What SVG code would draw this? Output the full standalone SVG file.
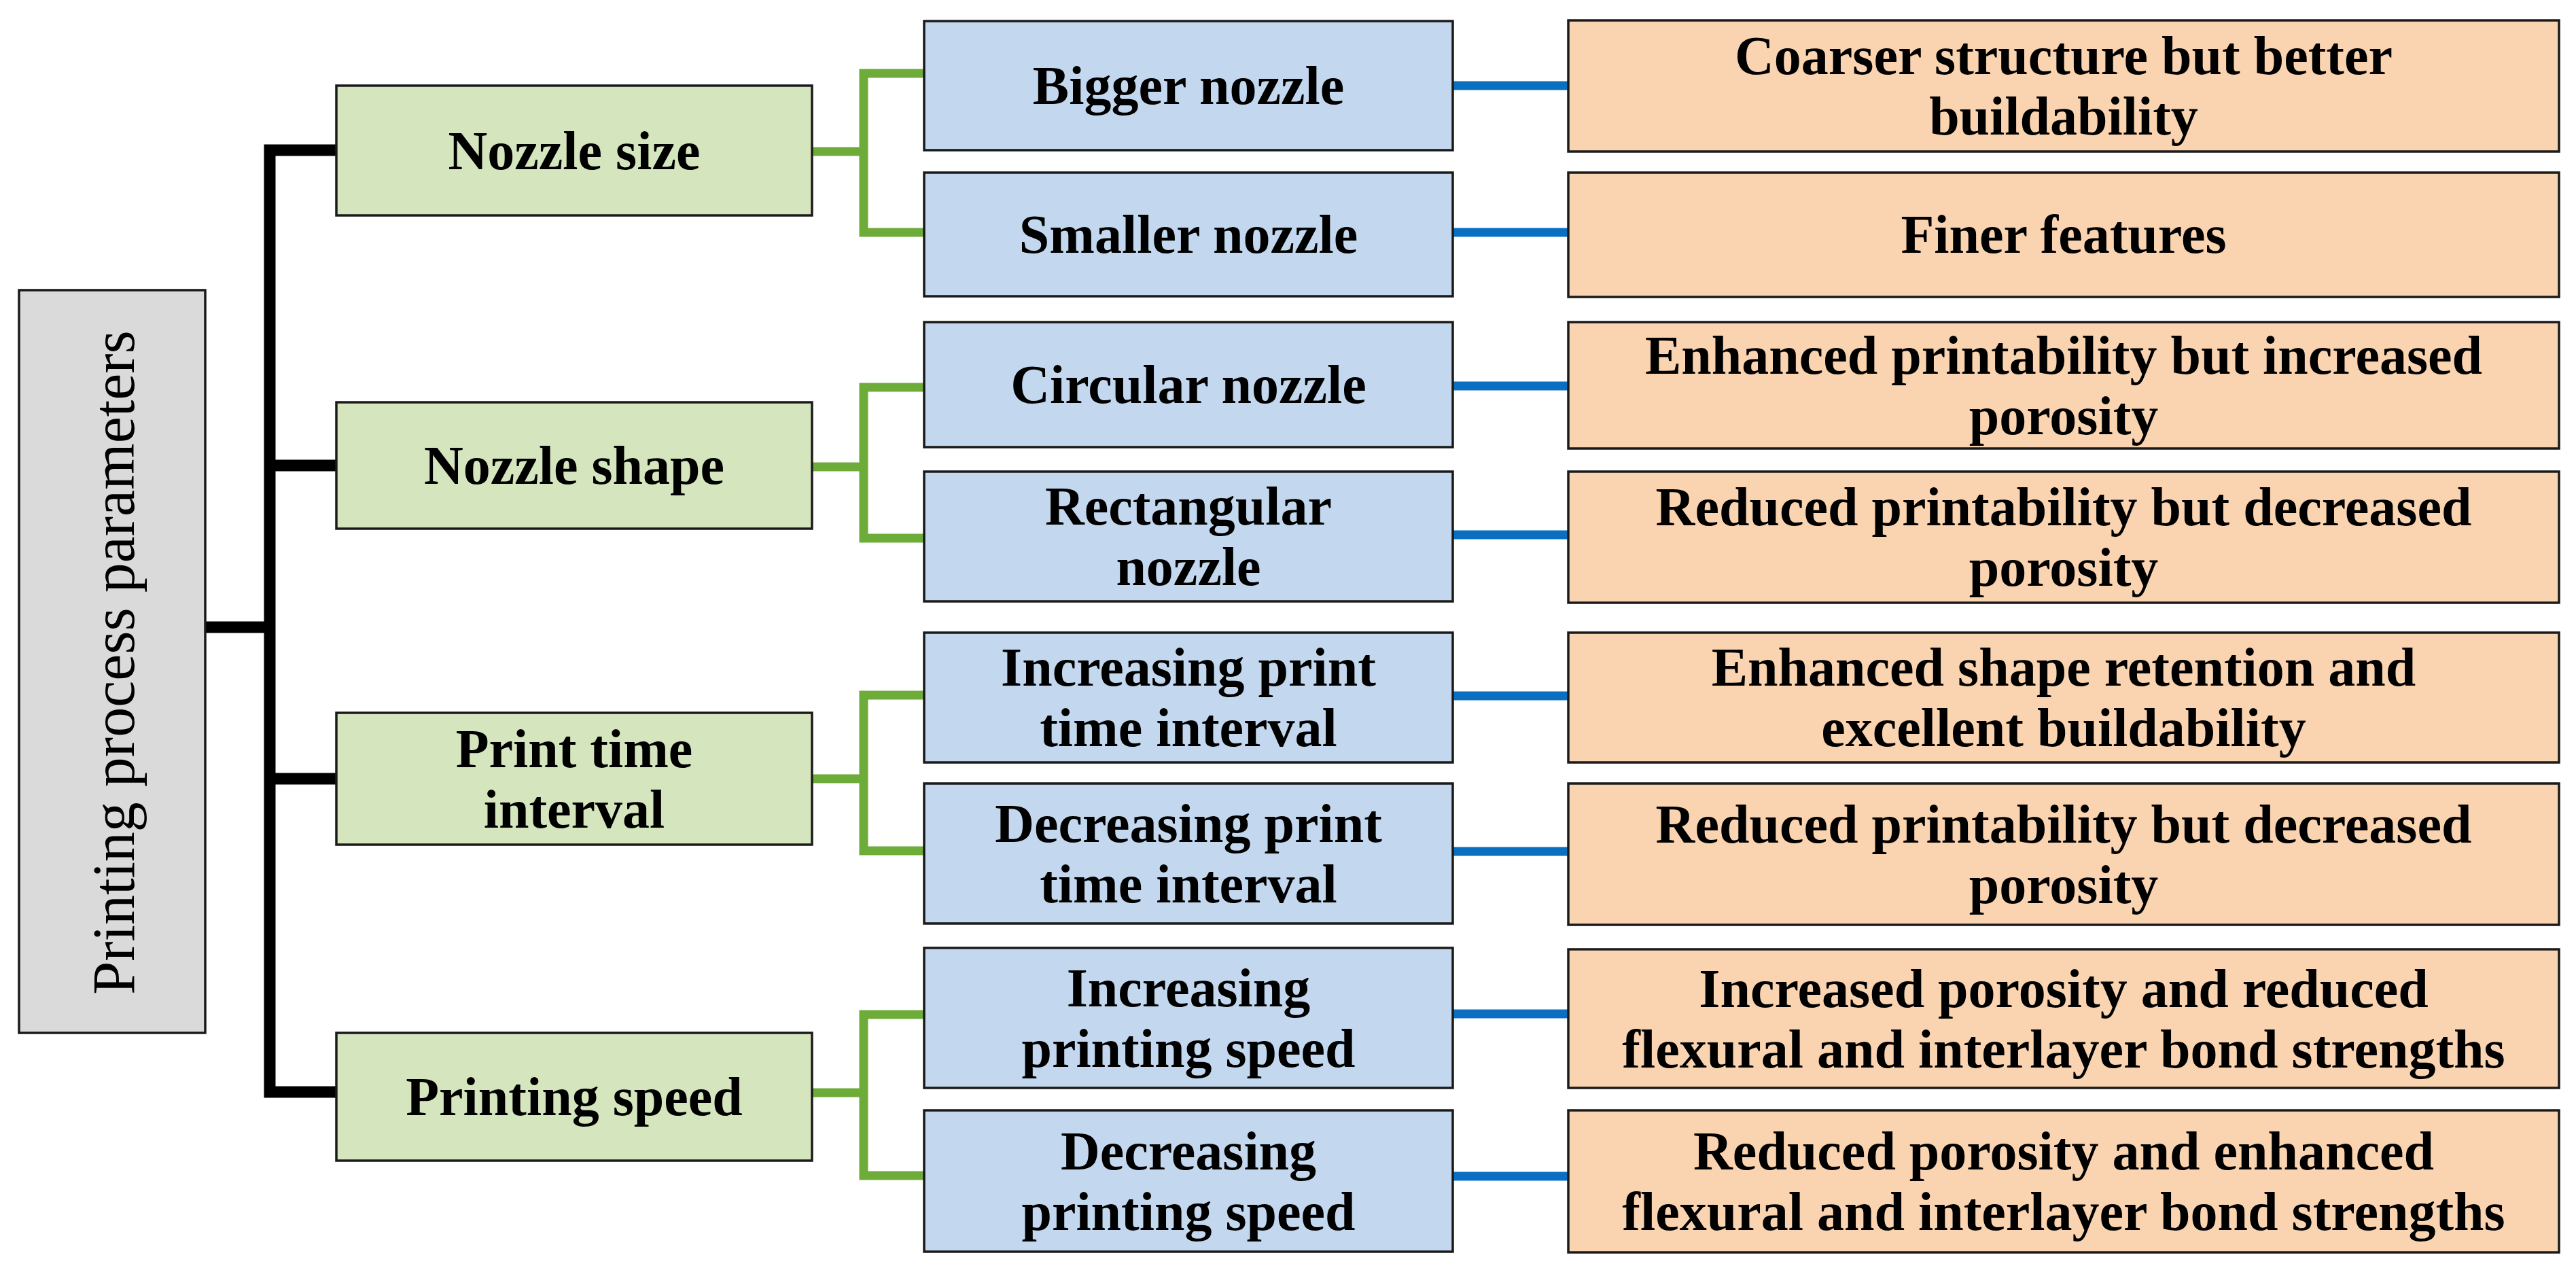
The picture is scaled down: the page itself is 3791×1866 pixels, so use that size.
<svg xmlns="http://www.w3.org/2000/svg" width="3791" height="1866" viewBox="0 0 3791 1866">
<style>
.box{stroke:#1a1a1a;stroke-width:3.5}
.root{fill:#dadada}
.g{fill:#d5e5bd}
.b{fill:#c3d8ee}
.o{fill:#fad4b0}
.t{font-family:"Liberation Serif","Times New Roman",serif;font-weight:bold;font-size:80px;fill:#000;text-anchor:middle}
.rt{font-family:"Liberation Serif","Times New Roman",serif;font-size:88px;fill:#000;text-anchor:middle}
.cb{fill:none;stroke:#000;stroke-width:17}
.cg{fill:none;stroke:#6eac3a;stroke-width:13}
.cl{fill:none;stroke:#0b6fc1;stroke-width:13}
</style>
<rect width="3791" height="1866" fill="#ffffff"/>
<g id="connectors">
<path class="cb" d="M302 923H397"/>
<path class="cb" d="M495 221H397V1607H495"/>
<path class="cb" d="M397 685H495"/>
<path class="cb" d="M397 1146H495"/>
<path class="cg" d="M1195 223H1271"/>
<path class="cg" d="M1360 108H1271V342H1360"/>
<path class="cg" d="M1195 687H1271"/>
<path class="cg" d="M1360 570H1271V792H1360"/>
<path class="cg" d="M1195 1146H1271"/>
<path class="cg" d="M1360 1023H1271V1252H1360"/>
<path class="cg" d="M1195 1608H1271"/>
<path class="cg" d="M1360 1493H1271V1730H1360"/>
<path class="cl" d="M2138 126H2308"/>
<path class="cl" d="M2138 342H2308"/>
<path class="cl" d="M2138 568H2308"/>
<path class="cl" d="M2138 787H2308"/>
<path class="cl" d="M2138 1024H2308"/>
<path class="cl" d="M2138 1253H2308"/>
<path class="cl" d="M2138 1492H2308"/>
<path class="cl" d="M2138 1731H2308"/>
</g>
<g id="root">
<rect class="box root" x="28" y="427" width="274" height="1093"/>
<text class="rt" transform="translate(197,975) rotate(-90)">Printing process parameters</text>
</g>
<g id="nozzle-size">
<rect class="box g" x="495" y="126" width="700" height="191"/>
<text class="t" x="845" y="249">Nozzle size</text>
</g>
<g id="nozzle-shape">
<rect class="box g" x="495" y="592" width="700" height="186"/>
<text class="t" x="845" y="712">Nozzle shape</text>
</g>
<g id="print-time-interval">
<rect class="box g" x="495" y="1049" width="700" height="194"/>
<text class="t" x="845" y="1129">Print time</text>
<text class="t" x="845" y="1218">interval</text>
</g>
<g id="printing-speed">
<rect class="box g" x="495" y="1520" width="700" height="188"/>
<text class="t" x="845" y="1641">Printing speed</text>
</g>
<g id="bigger-nozzle">
<rect class="box b" x="1360" y="31" width="778" height="190"/>
<text class="t" x="1749" y="153">Bigger nozzle</text>
</g>
<g id="smaller-nozzle">
<rect class="box b" x="1360" y="254" width="778" height="182"/>
<text class="t" x="1749" y="372">Smaller nozzle</text>
</g>
<g id="circular-nozzle">
<rect class="box b" x="1360" y="474" width="778" height="184"/>
<text class="t" x="1749" y="593">Circular nozzle</text>
</g>
<g id="rectangular-nozzle">
<rect class="box b" x="1360" y="694" width="778" height="191"/>
<text class="t" x="1749" y="772">Rectangular</text>
<text class="t" x="1749" y="861">nozzle</text>
</g>
<g id="increasing-print-time">
<rect class="box b" x="1360" y="931" width="778" height="191"/>
<text class="t" x="1749" y="1009">Increasing print</text>
<text class="t" x="1749" y="1098">time interval</text>
</g>
<g id="decreasing-print-time">
<rect class="box b" x="1360" y="1153" width="778" height="206"/>
<text class="t" x="1749" y="1239">Decreasing print</text>
<text class="t" x="1749" y="1328">time interval</text>
</g>
<g id="increasing-speed">
<rect class="box b" x="1360" y="1395" width="778" height="206"/>
<text class="t" x="1749" y="1481">Increasing</text>
<text class="t" x="1749" y="1570">printing speed</text>
</g>
<g id="decreasing-speed">
<rect class="box b" x="1360" y="1634" width="778" height="208"/>
<text class="t" x="1749" y="1721">Decreasing</text>
<text class="t" x="1749" y="1810">printing speed</text>
</g>
<g id="effect-1">
<rect class="box o" x="2308" y="30" width="1458" height="193"/>
<text class="t" x="3037" y="109">Coarser structure but better</text>
<text class="t" x="3037" y="198">buildability</text>
</g>
<g id="effect-2">
<rect class="box o" x="2308" y="254" width="1458" height="183"/>
<text class="t" x="3037" y="372">Finer features</text>
</g>
<g id="effect-3">
<rect class="box o" x="2308" y="474" width="1458" height="186"/>
<text class="t" x="3037" y="550">Enhanced printability but increased</text>
<text class="t" x="3037" y="639">porosity</text>
</g>
<g id="effect-4">
<rect class="box o" x="2308" y="694" width="1458" height="193"/>
<text class="t" x="3037" y="773">Reduced printability but decreased</text>
<text class="t" x="3037" y="862">porosity</text>
</g>
<g id="effect-5">
<rect class="box o" x="2308" y="931" width="1458" height="191"/>
<text class="t" x="3037" y="1009">Enhanced shape retention and</text>
<text class="t" x="3037" y="1098">excellent buildability</text>
</g>
<g id="effect-6">
<rect class="box o" x="2308" y="1153" width="1458" height="208"/>
<text class="t" x="3037" y="1240">Reduced printability but decreased</text>
<text class="t" x="3037" y="1329">porosity</text>
</g>
<g id="effect-7">
<rect class="box o" x="2308" y="1397" width="1458" height="204"/>
<text class="t" x="3037" y="1482">Increased porosity and reduced</text>
<text class="t" x="3037" y="1571">flexural and interlayer bond strengths</text>
</g>
<g id="effect-8">
<rect class="box o" x="2308" y="1634" width="1458" height="209"/>
<text class="t" x="3037" y="1721">Reduced porosity and enhanced</text>
<text class="t" x="3037" y="1810">flexural and interlayer bond strengths</text>
</g>
</svg>
